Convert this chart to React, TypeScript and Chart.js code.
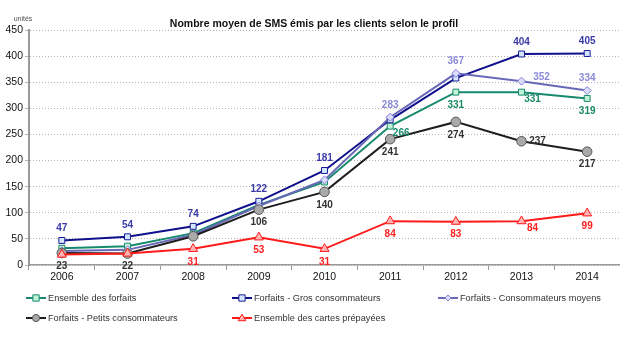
import React, { useEffect, useRef } from "react";
import { Chart, registerables } from "chart.js";

Chart.register(...registerables);

const TITLE = "Nombre moyen de SMS émis par les clients selon le profil";
const UNIT = "unités";
const YEARS = ["2006", "2007", "2008", "2009", "2010", "2011", "2012", "2013", "2014"];

const ensembleForfaits = [32, 36, 61, 115, 159, 266, 331, 331, 319];
const grosConso = [47, 54, 74, 122, 181, 278, 358, 404, 405];
const moyensConso = [27, 29, 58, 113, 163, 283, 367, 352, 334];
const petitsConso = [23, 22, 55, 106, 140, 241, 274, 237, 217];
const prepayees = [20, 22, 31, 53, 31, 84, 83, 84, 99];

const NAMES = [
  "Ensemble des forfaits",
  "Forfaits - Gros consommateurs",
  "Forfaits - Consommateurs moyens",
  "Forfaits - Petits consommateurs",
  "Ensemble des cartes prépayées",
];

// label placement per point (null = no label)
const LBL_GREEN = [null, null, null, null, null, "br", "b", "br", "b"];
const LBL_NAVY = ["a", "a", "a", "a", "a", null, null, "a", "a"];
const LBL_LAV = [null, null, null, null, null, "a", "a", "ar", "a"];
const LBL_GRAY = ["b", "b", null, "b", "b", "b", "b", "r", "b"];
const LBL_RED = [null, null, "b", "b", "b", "b", "b", "br", "b"];

const FONT = "'Liberation Sans', Arial, sans-serif";

const STYLES = [
  { line: "#168a6c", fill: "#bff2d6", border: "#168a6c", label: "#1a8a68", pt: "rect", r: 4.2, lbl: LBL_GREEN },
  { line: "#10108c", fill: "#d2e6ff", border: "#1a1a96", label: "#3a3aa8", pt: "rect", r: 4.2, lbl: LBL_NAVY },
  { line: "#6868b8", fill: "#dcdcff", border: "#8282d2", label: "#8a8ad8", pt: "rectRot", r: 4, lbl: LBL_LAV },
  { line: "#1e1e1e", fill: "#a9a9a9", border: "#555555", label: "#333333", pt: "circle", r: 4.8, lbl: LBL_GRAY },
  { line: "#ff1a1a", fill: "#ffb4b4", border: "#ff1a1a", label: "#ff2020", pt: "triangle", r: 5.2, lbl: LBL_RED },
];

const SERIES = [ensembleForfaits, grosConso, moyensConso, petitsConso, prepayees];

const OFFS: Record<string, [number, number]> = {
  a: [0, -12],
  b: [0, 13],
  r: [16, 0],
  br: [11, 7],
  ar: [20, -4],
};

const overlayPlugin = {
  id: "overlay",
  afterDatasetsDraw(chart: any) {
    const ctx = chart.ctx;
    ctx.save();
    ctx.textAlign = "center";
    ctx.textBaseline = "middle";
    ctx.font = `bold 10px ${FONT}`;
    chart.data.datasets.forEach((ds: any, i: number) => {
      const meta = chart.getDatasetMeta(i);
      const st = STYLES[i];
      meta.data.forEach((el: any, j: number) => {
        const code = st.lbl[j];
        if (!code) return;
        const [dx, dy] = OFFS[code];
        ctx.fillStyle = st.label;
        ctx.fillText(String(ds.data[j]), el.x + dx, el.y + dy);
      });
    });
    ctx.restore();
  },
  afterDraw(chart: any) {
    const ctx = chart.ctx;
    ctx.save();
    // title
    ctx.fillStyle = "#111";
    ctx.textAlign = "center";
    ctx.textBaseline = "middle";
    ctx.font = `bold 10.5px ${FONT}`;
    ctx.fillText(TITLE, 314, 24);
    // unit
    ctx.font = `7px ${FONT}`;
    ctx.fillStyle = "#555";
    ctx.fillText(UNIT, 23, 19);
    // legend
    const pos = [
      [26, 298],
      [232, 298],
      [438, 298],
      [26, 318],
      [232, 318],
    ];
    ctx.font = `9.2px ${FONT}`;
    ctx.textAlign = "left";
    chart.data.datasets.forEach((ds: any, i: number) => {
      const st = STYLES[i];
      const [x, y] = pos[i];
      ctx.strokeStyle = st.line;
      ctx.lineWidth = 2;
      ctx.beginPath();
      ctx.moveTo(x, y);
      ctx.lineTo(x + 20, y);
      ctx.stroke();
      ctx.fillStyle = st.fill;
      ctx.strokeStyle = st.border;
      ctx.lineWidth = 1;
      const cx = x + 10;
      const r = st.r * 0.75;
      ctx.beginPath();
      if (st.pt === "rect") {
        ctx.rect(cx - r, y - r, 2 * r, 2 * r);
      } else if (st.pt === "rectRot") {
        ctx.moveTo(cx, y - r);
        ctx.lineTo(cx + r, y);
        ctx.lineTo(cx, y + r);
        ctx.lineTo(cx - r, y);
        ctx.closePath();
      } else if (st.pt === "circle") {
        ctx.arc(cx, y, r, 0, Math.PI * 2);
      } else {
        ctx.moveTo(cx, y - r);
        ctx.lineTo(cx + r, y + r * 0.7);
        ctx.lineTo(cx - r, y + r * 0.7);
        ctx.closePath();
      }
      ctx.fill();
      ctx.stroke();
      ctx.fillStyle = "#333";
      ctx.fillText(ds.label, x + 22, y + 0.5);
    });
    ctx.restore();
  },
};

export default function App() {
  const ref = useRef<HTMLCanvasElement>(null);
  useEffect(() => {
    document.body.style.margin = "0";
    const canvas = ref.current!;
    const chart = new Chart(canvas, {
      type: "line",
      data: {
        labels: YEARS,
        datasets: SERIES.map((d, i) => ({
          label: NAMES[i],
          data: d,
          borderColor: STYLES[i].line,
          borderWidth: 2,
          pointStyle: STYLES[i].pt as any,
          pointRadius: STYLES[i].r,
          pointBackgroundColor: STYLES[i].fill,
          pointBorderColor: STYLES[i].border,
          pointBorderWidth: 1,
          tension: 0,
          fill: false,
          order: 5 - i,
        })),
      },
      options: {
        responsive: false,
        animation: false,
        layout: { autoPadding: false, padding: { top: 30, left: 0, right: 0, bottom: 0 } },
        plugins: {
          legend: { display: false },
          title: { display: false },
          tooltip: { enabled: false },
        },
        scales: {
          x: {
            offset: true,
            grid: {
              offset: true,
              drawOnChartArea: false,
              drawTicks: true,
              tickLength: 5,
              color: "#999",
            },
            border: { color: "#999", width: 1.5 },
            ticks: {
              color: "#111",
              font: { family: FONT, size: 10.5 },
              padding: 1,
              maxRotation: 0,
            },
            afterFit(scale: any) {
              scale.height = 85;
              scale.paddingLeft = 0;
              scale.paddingRight = 0;
            },
          },
          y: {
            min: 0,
            max: 450,
            ticks: {
              stepSize: 50,
              color: "#111",
              font: { family: FONT, size: 10.5 },
              padding: 2,
            },
            grid: {
              color: "#b4b4b4",
              drawTicks: true,
              tickLength: 4,
              lineWidth: 1,
            },
            border: { color: "#999", width: 2, dash: [1, 2] },
            afterFit(scale: any) {
              scale.width = 29;
            },
          },
        },
      },
      plugins: [overlayPlugin],
    });
    return () => chart.destroy();
  }, []);
  return (
    <div style={{ width: 620, height: 350, background: "#fff" }}>
      <canvas ref={ref} width={620} height={350} />
    </div>
  );
}
